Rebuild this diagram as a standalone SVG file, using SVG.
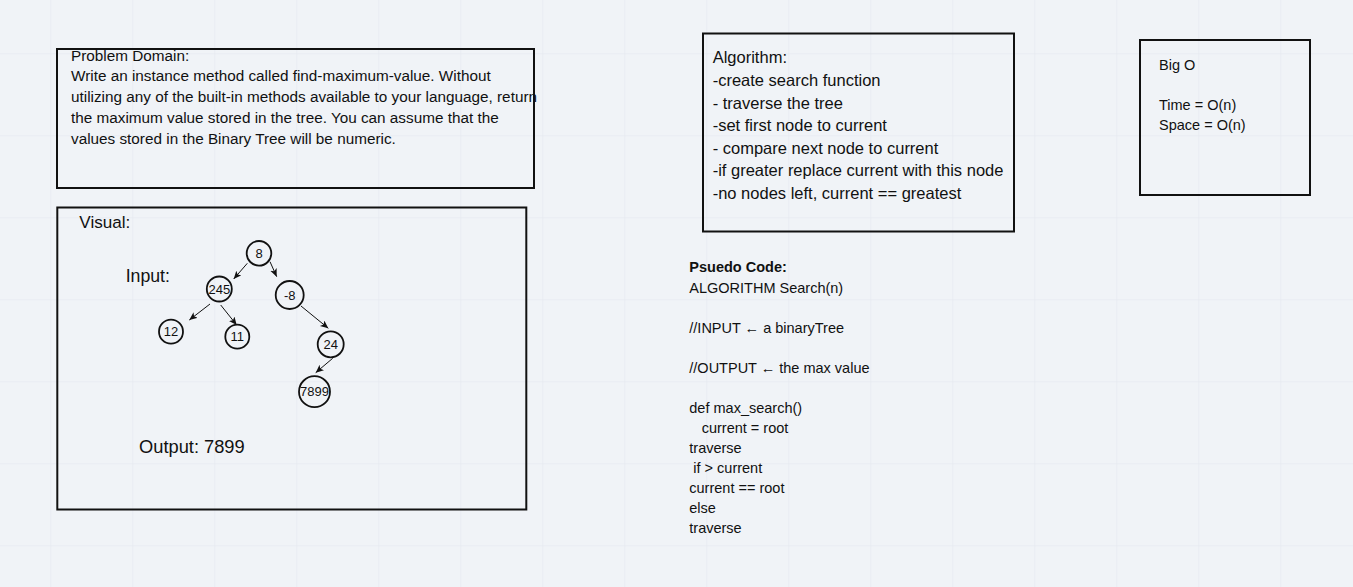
<svg xmlns="http://www.w3.org/2000/svg" width="1353" height="587" viewBox="0 0 1353 587">
<style>
text{font-family:"Liberation Sans",Arial,sans-serif;fill:#111}
.box{fill:none;stroke:#111;stroke-width:2}
.node circle{fill:none;stroke:#111;stroke-width:1.8}
.node text{font-size:13px;text-anchor:middle}
.edge{stroke:#111;stroke-width:1;fill:none;marker-end:url(#arr)}
.pd{font-size:15.3px}
.alg{font-size:16.5px}
.bo{font-size:14.5px}
.ps{font-size:14.5px}
</style>
<defs>
<pattern id="grid" patternUnits="userSpaceOnUse" x="50.3" y="53.3" width="82" height="82">
<path d="M0,0 H82 M0,0 V82" stroke="#e2e6ed" stroke-width="1" fill="none"/>
</pattern>
<marker id="arr" markerUnits="userSpaceOnUse" markerWidth="10" markerHeight="8" refX="8" refY="3.5" orient="auto">
<path d="M0,0 L8,3.5 L0,7 L2,3.5 z" fill="#111"/>
</marker>
</defs>
<rect width="1353" height="587" fill="#f0f3f7"/>
<rect width="1353" height="587" fill="url(#grid)"/>

<g id="problem-domain">
<text class="pd" x="71" y="60.5">Problem Domain:</text>
<text class="pd" x="71" y="81.3">Write an instance method called find-maximum-value. Without</text>
<text class="pd" x="71" y="102.1">utilizing any of the built-in methods available to your language, return</text>
<text class="pd" x="71" y="122.9">the maximum value stored in the tree. You can assume that the</text>
<text class="pd" x="71" y="143.7">values stored in the Binary Tree will be numeric.</text>
<rect class="box" x="57" y="49" width="477" height="139"/>
</g>

<g id="visual">
<rect class="box" x="57.3" y="207.5" width="469" height="302"/>
<text x="79.3" y="228.3" font-size="17.1">Visual:</text>
<text x="125.7" y="281.7" font-size="17.7">Input:</text>
<text x="139" y="453.3" font-size="18.3">Output: 7899</text>
</g>

<g id="connectors">
<line class="edge" x1="247.3" y1="263.3" x2="233.7" y2="279"/>
<line class="edge" x1="270" y1="261.7" x2="276.7" y2="276.7"/>
<line class="edge" x1="210" y1="304" x2="189.3" y2="320"/>
<line class="edge" x1="220.7" y1="305" x2="236.7" y2="325"/>
<line class="edge" x1="301" y1="306" x2="328.3" y2="328.3"/>
<line class="edge" x1="332.7" y1="358.3" x2="315.7" y2="372.7"/>
</g>

<g id="n8" class="node"><circle cx="259" cy="253.3" r="12.3"/><text x="259" y="257.8">8</text></g>
<g id="n245" class="node"><circle cx="219.3" cy="289" r="12.5"/><text x="219.3" y="293.5">245</text></g>
<g id="nm8" class="node"><circle cx="289.7" cy="295" r="14"/><text x="289.7" y="299.5">-8</text></g>
<g id="n12" class="node"><circle cx="171" cy="331.7" r="12"/><text x="171" y="336.2">12</text></g>
<g id="n11" class="node"><circle cx="237.3" cy="336.7" r="12"/><text x="237.3" y="341.2">11</text></g>
<g id="n24" class="node"><circle cx="330.7" cy="344.3" r="13"/><text x="330.7" y="348.8">24</text></g>
<g id="n7899" class="node"><circle cx="314.5" cy="391.7" r="15.5"/><text x="314.5" y="396.2">7899</text></g>

<g id="algorithm">
<rect class="box" x="703" y="33.5" width="311" height="198"/>
<text class="alg" x="712.7" y="63.3">Algorithm:</text>
<text class="alg" x="712.7" y="85.9">-create search function</text>
<text class="alg" x="712.7" y="108.5">- traverse the tree</text>
<text class="alg" x="712.7" y="131.1">-set first node to current</text>
<text class="alg" x="712.7" y="153.7">- compare next node to current</text>
<text class="alg" x="712.7" y="176.3">-if greater replace current with this node</text>
<text class="alg" x="712.7" y="198.9">-no nodes left, current == greatest</text>
</g>

<g id="big-o">
<rect class="box" x="1140" y="40" width="170" height="155"/>
<text class="bo" x="1159" y="70">Big O</text>
<text class="bo" x="1159" y="110">Time = O(n)</text>
<text class="bo" x="1159" y="130">Space = O(n)</text>
</g>

<g id="pseudo-code">
<text class="ps" x="689.3" y="272.3" font-weight="bold">Psuedo Code:</text>
<text class="ps" x="689.3" y="292.5">ALGORITHM Search(n)</text>
<text class="ps" x="689.3" y="332.5">//INPUT ← a binaryTree</text>
<text class="ps" x="689.3" y="372.5">//OUTPUT ← the max value</text>
<text class="ps" x="689.3" y="412.5">def max_search()</text>
<text class="ps" x="701.7" y="432.5">current = root</text>
<text class="ps" x="689.3" y="452.5">traverse</text>
<text class="ps" x="693.3" y="472.5">if &gt; current</text>
<text class="ps" x="689.3" y="492.5">current == root</text>
<text class="ps" x="689.3" y="512.5">else</text>
<text class="ps" x="689.3" y="532.5">traverse</text>
</g>
</svg>
